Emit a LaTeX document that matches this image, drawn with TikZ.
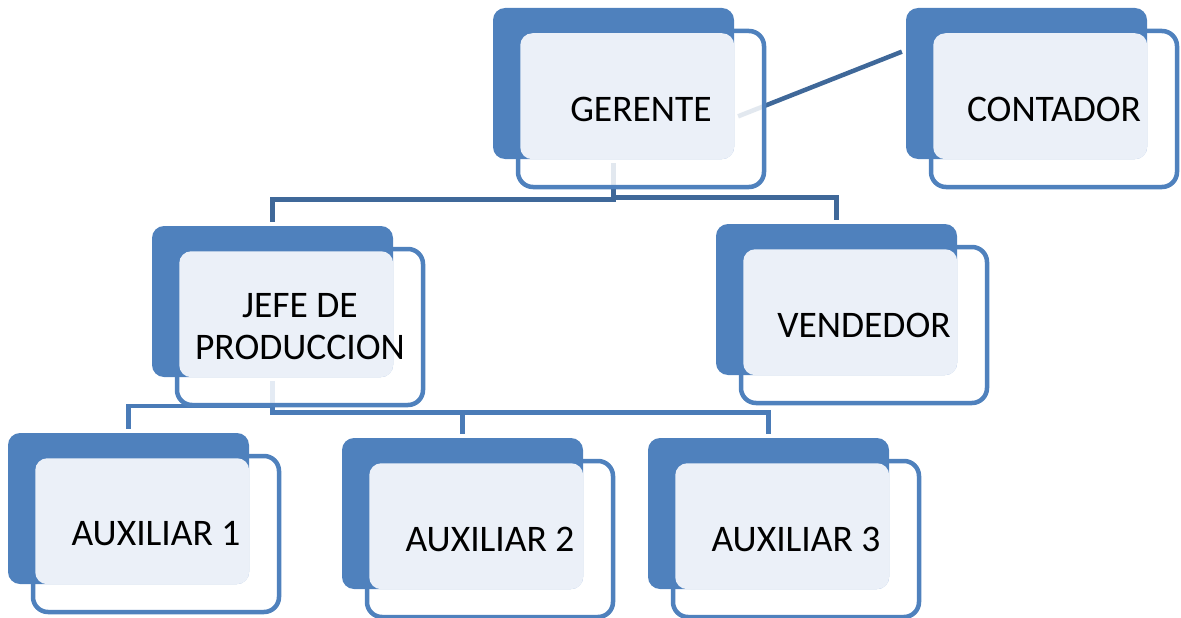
\documentclass[tikz,border=0pt]{standalone}
\usepackage{fontspec}
\setmainfont{Carlito}
\usetikzlibrary{calc}
\pgfdeclarelayer{background}
\pgfsetlayers{background,main}
\definecolor{boxblue}{HTML}{4F81BD}
\definecolor{lightfill}{HTML}{EBF0F8}
\definecolor{toplinec}{HTML}{3F6899}
\definecolor{botlinec}{HTML}{4A7BB7}
\tikzset{
  darkbox/.style={fill=boxblue, rounded corners=12pt, minimum width=241pt, minimum height=151pt, inner sep=0pt, draw=none},
  outbox/.style={draw=boxblue, line width=4.5pt, fill=white, fill opacity=0.85, rounded corners=15pt, minimum width=246pt, minimum height=156pt, inner sep=0pt},
  lightbox/.style={fill=lightfill, rounded corners=12pt},
  txt/.style={font=\fontsize{37.5}{42}\selectfont, text=black, align=center, inner sep=0pt},
  topline/.style={draw=toplinec, line width=4.5pt, line cap=rect},
  botline/.style={draw=botlinec, line width=4.5pt, line cap=rect},
}
\newcommand\orgbox[4]{%
  \node[outbox] (#1O) at (#2+148, #3+101) {};
  \node[darkbox] (#1D) at (#2+120.5, #3+75.5) {};
  \fill[lightbox] ($(#1O.north west)+(4.5,4.5)$) rectangle (#1D.south east);
  \node[txt] (#1) at (#1O.center) {#4};
}
\begin{document}
\begin{tikzpicture}[x=1pt, y=-1pt]
  \useasboundingbox (0,0) rectangle (1181,618);
  \orgbox{ger}{493}{8}{GERENTE}
  \orgbox{cont}{906}{8}{CONTADOR}
  \orgbox{jefe}{152}{226}{JEFE DE\\PRODUCCION}
  \orgbox{vend}{716}{224}{VENDEDOR}
  \orgbox{auxa}{8}{433}{AUXILIAR 1}
  \orgbox{auxb}{342}{438}{AUXILIAR 2}
  \orgbox{auxc}{648}{438}{AUXILIAR 3}
  \begin{pgfonlayer}{background}
    \coordinate (topbarL) at (0,199.5);
    \coordinate (topbarR) at (0,197.5);
    \coordinate (lbar) at (0,406);
    \coordinate (rbar) at (0,412.5);
    \draw[topline] ($(gerD.south)+(0,6)$) -- (gerD.south |- topbarL);
    \draw[topline] ($(jefeD.north)+(0,-6)$) |- (gerD.south |- topbarL);
    \draw[topline] (gerD.south |- topbarR) -| ($(vendD.north)+(0,-6)$);
    \draw[topline] ($(gerD.east)+(6,32)$) -- ($(contD.west)+(-6,-31)$);
    \draw[botline] ($(jefeD.south)+(0,6)$) -- (jefeD.south |- rbar) -| ($(auxcD.north)+(0,-6)$);
    \draw[botline] (jefeD.south |- lbar) -| ($(auxaD.north)+(0,-6)$);
    \draw[botline] (auxbD.north |- rbar) -- ($(auxbD.north)+(0,-6)$);
  \end{pgfonlayer}
\end{tikzpicture}
\end{document}
